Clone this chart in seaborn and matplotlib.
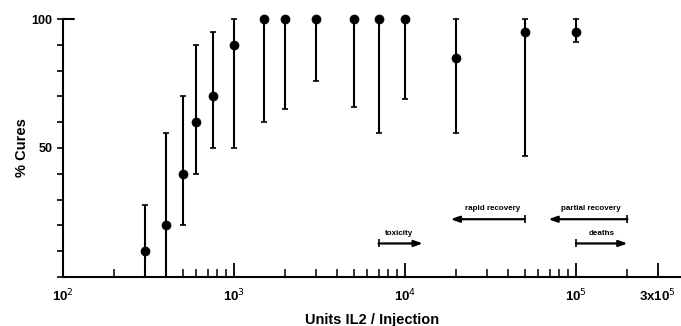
import numpy as np
import pandas as pd
import seaborn as sns
import matplotlib.pyplot as plt

# dose-response data
doses = [300, 400, 500, 600, 750, 1000, 1500, 2000, 3000, 5000, 7000, 10000, 20000, 50000, 100000]
cures = [10, 20, 40, 60, 70, 90, 100, 100, 100, 100, 100, 100, 85, 95, 95]
err_low = [0, 0, 20, 40, 50, 50, 60, 65, 76, 66, 56, 69, 56, 47, 91]
err_high = [28, 56, 70, 90, 95, 100, 100, 100, 100, 100, 100, 100, 100, 100, 100]

# annotated ranges: label, bar end, arrow head end, y level
range_labels = ['toxicity', 'rapid recovery', 'partial recovery', 'deaths']
range_tail = [7000, 50000, 200000, 100000]
range_head = [12700, 18500, 69000, 200000]
range_y = [13, 22.4, 22.4, 13]
range_text_x = [9200, 32700, 122000, 141000]

x_ticks = [1e2, 1e3, 1e4, 1e5, 3e5]
x_tick_labels = ['10$^2$', '10$^3$', '10$^4$', '10$^5$', '3x10$^5$']

sns.set_style('ticks')
plt.rcParams['font.family'] = ['Liberation Sans', 'DejaVu Sans']
plt.rcParams.update({'text.color': 'black', 'axes.labelcolor': 'black',
                     'xtick.color': 'black', 'ytick.color': 'black',
                     'axes.edgecolor': 'black'})

df = pd.DataFrame({'dose': doses, 'cures': cures})

fig = plt.figure(figsize=(6.81, 3.26), dpi=100)
ax = fig.add_axes([63 / 681, 49 / 326, 618 / 681, 258 / 326])

yerr = np.array([np.array(cures) - np.array(err_low), np.array(err_high) - np.array(cures)])
ax.errorbar(df['dose'], df['cures'], yerr=yerr, fmt='none', ecolor='black',
            elinewidth=1.5, capsize=2.5, capthick=1.2, clip_on=False)
sns.scatterplot(data=df, x='dose', y='cures', ax=ax, color='black', s=42,
                edgecolor='black', zorder=5, clip_on=False)

for label, tail, head, y, tx in zip(range_labels, range_tail, range_head, range_y, range_text_x):
    ax.annotate('', xy=(head, y), xytext=(tail, y),
                arrowprops=dict(arrowstyle='-|>,head_length=0.5,head_width=0.18',
                                color='black', lw=1.6, shrinkA=0, shrinkB=0))
    ax.plot([tail], [y], marker='|', color='black', markersize=6, mew=1.2)
    ax.text(tx, y + 2.6, label, ha='center', va='bottom', fontsize=5.8, fontweight='bold')

ax.set_xscale('log')
ax.set_xlim(100, 10 ** (2 + 618 / 171))
ax.set_ylim(0, 100)

ax.spines['top'].set_visible(False)
ax.spines['right'].set_visible(False)
ax.spines['left'].set_linewidth(1.5)
ax.spines['bottom'].set_linewidth(1.5)

ax.set_xticks(x_ticks)
ax.set_xticklabels(x_tick_labels, fontsize=9.5, fontweight='bold')
minor = [m * 10 ** d for d in range(2, 6) for m in range(2, 10)]
minor = [v for v in minor if v < 4e5 and v != 3e5]
ax.set_xticks(minor, minor=True)
ax.set_xticklabels([], minor=True)
ax.tick_params(axis='x', which='major', direction='in', length=10, width=1.3, pad=8)
ax.tick_params(axis='x', which='minor', direction='in', length=6, width=1.1)

ax.set_yticks([0, 50, 100])
ax.set_yticklabels(['', '50', '100'], fontsize=9, fontweight='bold')
ax.set_yticks(range(0, 101, 10), minor=True)
ax.tick_params(axis='y', which='both', direction='out', length=4, width=1.2)
ax.axhline(100, xmin=0, xmax=0.018, color='black', lw=1.5, clip_on=False)

ax.set_xlabel('Units IL2 / Injection', fontsize=10.5, fontweight='bold', labelpad=6)
ax.set_ylabel('% Cures', fontsize=10.5, fontweight='bold', labelpad=2)

plt.savefig('out.png', dpi=100)
plt.close()
